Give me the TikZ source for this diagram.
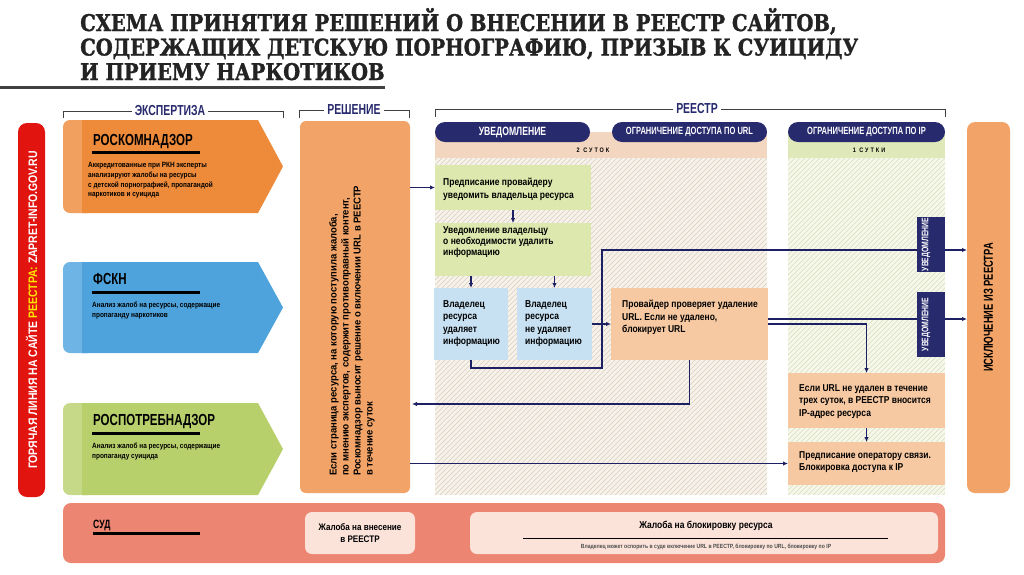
\documentclass[tikz,border=0pt]{standalone}
\usepackage{fontspec}
\setmainfont{Liberation Sans}
\newfontfamily\cnd[FakeStretch=0.85]{Liberation Sans}
\newfontfamily\nrw[FakeStretch=0.95]{Liberation Sans}
\newfontfamily\ccnd[FakeStretch=0.72]{Liberation Sans}
\newfontfamily\ttlf[FakeStretch=0.85,FakeBold=1.2]{DejaVu Serif}
\newfontfamily\spf[FakeStretch=0.85,LetterSpace=30]{Liberation Sans}
\usetikzlibrary{arrows.meta}
\definecolor{navy}{RGB}{40,42,110}
\definecolor{lnc}{RGB}{30,32,100}
\definecolor{ttlc}{RGB}{35,35,35}
\definecolor{redc}{RGB}{226,20,16}
\definecolor{yel}{RGB}{255,228,0}
\definecolor{org}{RGB}{238,139,58}
\definecolor{orgl}{RGB}{242,160,95}
\definecolor{blu}{RGB}{78,163,220}
\definecolor{blul}{RGB}{110,180,228}
\definecolor{grnd}{RGB}{184,208,108}
\definecolor{grndl}{RGB}{198,217,137}
\definecolor{dec}{RGB}{242,164,104}
\definecolor{grn}{RGB}{220,232,173}
\definecolor{lblu}{RGB}{199,225,243}
\definecolor{pch}{RGB}{247,201,162}
\definecolor{bandu}{RGB}{243,214,192}
\definecolor{bandi}{RGB}{223,232,184}
\definecolor{urlbg}{RGB}{246,242,235}
\definecolor{urlh}{RGB}{216,206,188}
\definecolor{ipbg}{RGB}{245,247,234}
\definecolor{iph}{RGB}{216,222,186}
\definecolor{sud}{RGB}{236,133,113}
\definecolor{sudl}{RGB}{251,227,218}
\tikzset{
 arr/.style={draw=lnc, line width=1.3pt, -{Latex[length=5pt,width=4.5pt]}},
 brk/.style={draw=black!75, line width=0.8pt},
 hdr/.style={font=\ccnd\bfseries\fontsize{14.5}{14.5}\selectfont, text=navy, fill=white, inner sep=3pt},
 box/.style={anchor=north west, inner sep=0pt, outer sep=0pt},
 btxt/.style={anchor=north west, inner sep=0pt, align=left, font=\cnd\bfseries\fontsize{10}{12.5}\selectfont, text=black},
 stxt/.style={anchor=north west, inner sep=0pt, align=left, font=\cnd\bfseries\fontsize{7.6}{9.8}\selectfont, text=black},
 ptitle/.style={anchor=base west, inner sep=0pt, font=\ccnd\bfseries\fontsize{16}{16}\selectfont, text=black},
 pill/.style={fill=navy, rounded corners=10pt, inner sep=0pt, minimum height=20pt, text=white, font=\ccnd\bfseries\fontsize{10.5}{10.5}\selectfont},
 ttl/.style={anchor=base west, inner sep=0pt, font=\ttlf\bfseries\fontsize{23}{23}\selectfont, text=ttlc},
}
\begin{document}
\begin{tikzpicture}[x=1pt,y=-1pt]
\useasboundingbox (0,0) rectangle (1024,574);
\fill[white] (0,0) rectangle (1024,574);

% title
\node[ttl] (t1) at (80,31) {СХЕМА ПРИНЯТИЯ РЕШЕНИЙ О ВНЕСЕНИИ В РЕЕСТР САЙТОВ,};
\node[ttl] (t2) at (80,55.5) {СОДЕРЖАЩИХ ДЕТСКУЮ ПОРНОГРАФИЮ, ПРИЗЫВ К СУИЦИДУ};
\node[ttl] (t3) at (80,80) {И ПРИЕМУ НАРКОТИКОВ};
\fill[black!75] (0,85.5) rectangle (385,88.5);

% brackets
\draw[brk] (63,118) -- (63,111) -- (283,111) -- (283,118);
\node[hdr] (h1) at (170,111) {ЭКСПЕРТИЗА};
\draw[brk] (299,118) -- (299,110) -- (409,110) -- (409,118);
\node[hdr] (h2) at (354,110) {РЕШЕНИЕ};
\draw[brk] (435,117) -- (435,109) -- (945,109) -- (945,117);
\node[hdr] (h3) at (697,109) {РЕЕСТР};

% hotline bar
\node[fill=redc, rounded corners=9pt, minimum width=27pt, minimum height=374pt, inner sep=0pt] (hot) at (31.5,310) {};
\node[rotate=90, font=\cnd\bfseries\fontsize{12.3}{12.3}\selectfont, text=white] (hott) at (hot.center) {ГОРЯЧАЯ ЛИНИЯ НА САЙТЕ \textcolor{yel}{РЕЕСТРА:} ZAPRET-INFO.GOV.RU};

% expert arrows
\fill[orgl, rounded corners=7pt] (63,120) rectangle (95,213);
\fill[org] (82,120) -- (258,120) -- (283,166.5) -- (258,213) -- (82,213) -- cycle;
\node[ptitle] (rkn) at (93,145) {РОСКОМНАДЗОР};
\fill[black] (92,151) rectangle (200,154);
\node[stxt] (rknt) at (88,162) {Аккредитованные при РКН эксперты\\анализируют жалобы на ресурсы\\с детской порнографией, пропагандой\\наркотиков и суицида};

\fill[blul, rounded corners=7pt] (63,262) rectangle (95,353);
\fill[blu] (82,262) -- (258,262) -- (283,307.5) -- (258,353) -- (82,353) -- cycle;
\node[ptitle] (fskn) at (93,284) {ФСКН};
\fill[black] (92,291) rectangle (200,294);
\node[stxt] (fsknt) at (92,302) {Анализ жалоб на ресурсы, содержащие\\пропаганду наркотиков};

\fill[grndl, rounded corners=7pt] (63,403) rectangle (95,495);
\fill[grnd] (82,403) -- (258,403) -- (283,449) -- (258,495) -- (82,495) -- cycle;
\node[ptitle] (rpn) at (93,425) {РОСПОТРЕБНАДЗОР};
\fill[black] (92,432) rectangle (200,435);
\node[stxt] (rpnt) at (92,443) {Анализ жалоб на ресурсы, содержащие\\пропаганду суицида};

% decision
\node[box, fill=dec, rounded corners=6pt, minimum width=110pt, minimum height=372pt] (dec) at (300,121) {};
\node[rotate=90, anchor=north west, inner sep=0pt, align=left, font=\nrw\bfseries\fontsize{10}{12}\selectfont] (dect) at (329,476) {Если страница ресурса, на которую поступила жалоба,\\по мнению экспертов, содержит противоправный контент,\\Роскомнадзор выносит решение о включении URL в РЕЕСТР\\в течение суток};

% registry columns
\fill[bandu] (435,132) rectangle (767,158);
\fill[bandi] (788,132) rectangle (945,158);
\begin{scope}
\clip (435,158) rectangle (767,495);
\fill[urlbg] (435,158) rectangle (767,495);
\foreach \i in {0,5,...,680} \draw[urlh, line width=0.6pt] (95+\i,495) -- ++(340,-340);
\end{scope}
\begin{scope}
\clip (788,158) rectangle (945,495);
\fill[ipbg] (788,158) rectangle (945,495);
\foreach \i in {0,5,...,500} \draw[iph, line width=0.6pt] (448+\i,495) -- ++(340,-340);
\end{scope}
\node[pill, minimum width=155pt, font=\ccnd\bfseries\fontsize{12}{12}\selectfont] (p1) at (512.5,132) {УВЕДОМЛЕНИЕ};
\node[pill, minimum width=155pt] (p2) at (689.5,132) {ОГРАНИЧЕНИЕ ДОСТУПА ПО URL};
\node[pill, minimum width=157pt] (p3) at (866.5,132) {ОГРАНИЧЕНИЕ ДОСТУПА ПО IP};
\node[font=\spf\bfseries\fontsize{6.5}{6.5}\selectfont, inner sep=0pt] (d2) at (593,150) {2 СУТОК};
\node[font=\spf\bfseries\fontsize{6.5}{6.5}\selectfont, inner sep=0pt] (d1) at (869,150) {1 СУТКИ};

% boxes
\node[box, fill=grn, minimum width=156pt, minimum height=45pt] (pb1) at (435,165) {};
\node[btxt] (pb1t) at (443,178) {Предписание провайдеру\\уведомить владельца ресурса};
\node[box, fill=grn, minimum width=156pt, minimum height=53pt] (nb2) at (435,223) {};
\node[btxt, font=\cnd\bfseries\fontsize{10}{11.2}\selectfont] (nb2t) at (443,226) {Уведомление владельцу\\о необходимости удалить\\информацию};
\node[box, fill=lblu, minimum width=74pt, minimum height=72pt] (own1) at (434,288) {};
\node[btxt] (own1t) at (443,300) {Владелец\\ресурса\\удаляет\\информацию};
\node[box, fill=lblu, minimum width=75pt, minimum height=72pt] (own2) at (517,288) {};
\node[btxt] (own2t) at (525,300) {Владелец\\ресурса\\не удаляет\\информацию};
\node[box, fill=pch, minimum width=157pt, minimum height=72pt] (prov) at (611,288) {};
\node[btxt] (provt) at (622,300) {Провайдер проверяет удаление\\URL. Если не удалено,\\блокирует URL};
\node[box, fill=pch, minimum width=157pt, minimum height=55pt] (ipa) at (788,373) {};
\node[btxt] (ipat) at (799,384) {Если URL не удален в течение\\трех суток, в РЕЕСТР вносится\\IP-адрес ресурса};
\node[box, fill=pch, minimum width=157pt, minimum height=43pt] (ipb) at (788,442) {};
\node[btxt] (ipbt) at (799,451) {Предписание оператору связи.\\Блокировка доступа к IP};
\node[box, fill=dec, rounded corners=8pt, minimum width=43pt, minimum height=371pt] (excl) at (967,122) {};
\node[rotate=90, font=\ccnd\bfseries\fontsize{13}{13}\selectfont] (exclt) at (excl.center) {ИСКЛЮЧЕНИЕ ИЗ РЕЕСТРА};

% connectors
\coordinate (j1) at (602,368);
\coordinate (j2) at (602,250);
\coordinate (j3) at (412,404);
\coordinate (j4) at (768,319);
\draw[arr] (dec.east |- pb1.west) -- (pb1.west);
\draw[arr] (pb1.south) -- (nb2.north);
\draw[arr] (nb2.south -| own1.south) -- (own1.north);
\draw[arr] (nb2.south -| own2.south) -- (own2.north);
\draw[arr] (own2.east) -- (prov.west);
\draw[arr] (own1.south) |- (j1) -- (j2) -- (excl.west |- j2);
\draw[arr] (j4) -- (excl.west |- j4);
\draw[arr] (prov.east) -| (ipa.north);
\draw[arr] (prov.south) |- (j3);
\draw[arr] (dec.east |- ipb.west) -- (ipb.west);
\draw[arr] (ipa.south) -- (ipb.north);

% notification tags
\node[box, fill=navy, minimum width=28pt, minimum height=55pt] (nt1) at (917,217) {};
\node[rotate=90, text=white, font=\ccnd\bfseries\fontsize{9.5}{9.5}\selectfont, inner sep=0pt] (nt1t) at ([xshift=-5pt]nt1.center) {УВЕДОМЛЕНИЕ};
\node[box, fill=navy, minimum width=28pt, minimum height=65pt] (nt2) at (917,292) {};
\node[rotate=90, text=white, font=\ccnd\bfseries\fontsize{9.5}{9.5}\selectfont, inner sep=0pt] (nt2t) at ([xshift=-5pt]nt2.center) {УВЕДОМЛЕНИЕ};

% court
\node[box, fill=sud, rounded corners=8pt, minimum width=882pt, minimum height=60pt] (sud) at (63,503) {};
\node[anchor=base west, inner sep=0pt, font=\ccnd\bfseries\fontsize{12}{12}\selectfont] (sudt) at (93,528) {СУД};
\fill[black] (93,532) rectangle (200,535);
\node[box, fill=sudl, rounded corners=7pt, minimum width=110pt, minimum height=42pt] (s1) at (305,512) {};
\node[align=center, inner sep=0pt, font=\cnd\bfseries\fontsize{9.5}{12}\selectfont] (s1t) at (s1.center) {Жалоба на внесение\\в РЕЕСТР};
\node[box, fill=sudl, rounded corners=7pt, minimum width=468pt, minimum height=42pt] (s2) at (470,512) {};
\node[inner sep=0pt, font=\cnd\bfseries\fontsize{10}{10}\selectfont] (s2t) at (706,526) {Жалоба на блокировку ресурса};
\draw[black, line width=0.8pt] (523,538) -- (888,538);
\node[inner sep=0pt, font=\cnd\bfseries\fontsize{6}{6}\selectfont, text=black!70] (s2s) at (706,547) {Владелец может оспорить в суде включение URL в РЕЕСТР, блокировку по URL, блокировку по IP};
\end{tikzpicture}
\end{document}
